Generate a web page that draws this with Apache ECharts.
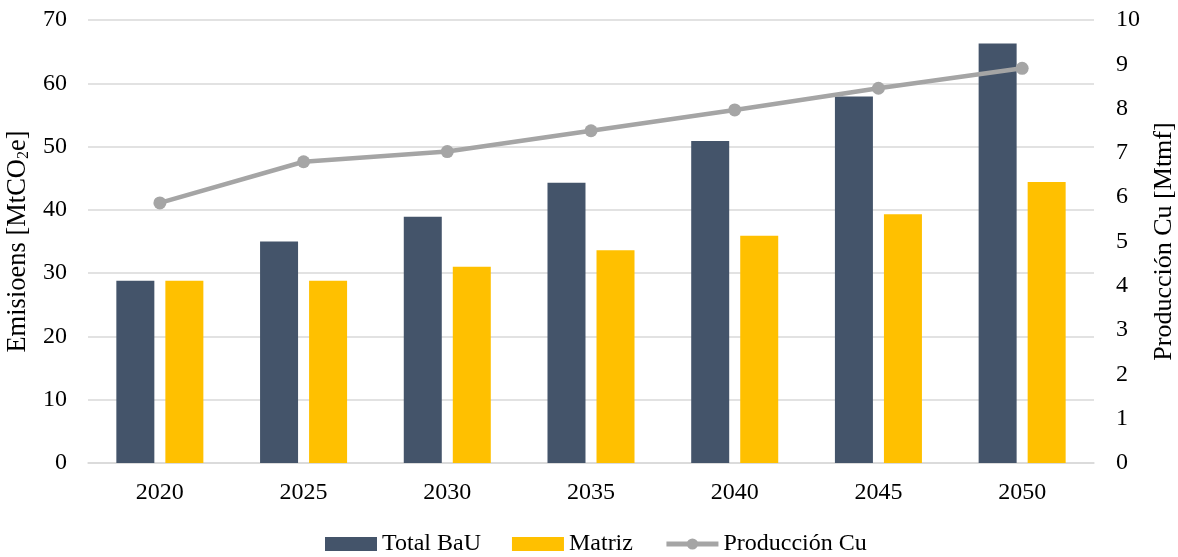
<!DOCTYPE html>
<html>
<head>
<meta charset="utf-8">
<script src="https://cdn.jsdelivr.net/npm/echarts@6/dist/echarts.min.js"></script>
<style>
html,body{margin:0;padding:0;background:#fff;}
#chart{width:1178px;height:557px;}
</style>
</head>
<body>
<div id="chart"></div>
<script>
const categories = ['2020','2025','2030','2035','2040','2045','2050'];
const totalBaU = [28.8, 35.0, 38.9, 44.3, 50.9, 57.9, 66.3];
const matriz = [28.8, 28.8, 31.0, 33.6, 35.9, 39.3, 44.4];
const produccionCu = [5.87, 6.80, 7.03, 7.50, 7.97, 8.46, 8.91];

const font = 'Liberation Serif, Times New Roman, serif';
const chart = echarts.init(document.getElementById('chart'));
chart.setOption({
  backgroundColor: '#fff',
  animation: false,
  textStyle: {fontFamily: font, color: '#000'},
  grid: {left: 88, right: 84, top: 20, bottom: 94, containLabel: false, outerBoundsMode: 'none'},
  legend: {
    top: 527,
    left: 320,
    itemWidth: 52,
    itemHeight: 14,
    itemGap: 31,
    textStyle: {fontFamily: font, fontSize: 24, color: '#000'},
    data: [
      {name: 'Total BaU', icon: 'rect'},
      {name: 'Matriz', icon: 'rect'},
      {name: 'Producción Cu', lineStyle: {width: 5}}
    ]
  },
  xAxis: {
    type: 'category',
    data: categories,
    axisTick: {show: false},
    axisLine: {lineStyle: {color: '#D9D9D9', width: 1.5}},
    axisLabel: {fontFamily: font, fontSize: 24, color: '#000', margin: 18}
  },
  yAxis: [{
    type: 'value',
    min: 0, max: 70, interval: 10,
    name: '{a|Emisioens [MtCO}{s|2}{a|e]}',
    nameLocation: 'middle',
    nameGap: 45,
    nameRotate: 90,
    nameTextStyle: {
      rich: {
        a: {fontFamily: font, fontSize: 26.5, color: '#000'},
        s: {fontFamily: font, fontSize: 16, color: '#000', padding: [12, 0, 0, 0]}
      }
    },
    axisLine: {show: false},
    axisTick: {show: false},
    axisLabel: {fontFamily: font, fontSize: 24, color: '#000', margin: 21},
    splitLine: {lineStyle: {color: '#D9D9D9', width: 1.5}}
  }, {
    type: 'value',
    min: 0, max: 10, interval: 1,
    name: 'Producción Cu [Mtmf]',
    nameLocation: 'middle',
    nameGap: 56,
    nameRotate: 90,
    nameTextStyle: {fontFamily: font, fontSize: 26, color: '#000'},
    axisLine: {show: false},
    axisTick: {show: false},
    axisLabel: {fontFamily: font, fontSize: 24, color: '#000', margin: 22},
    splitLine: {show: false}
  }],
  series: [{
    name: 'Total BaU',
    type: 'bar',
    data: totalBaU,
    barWidth: 38,
    barGap: '29%',
    itemStyle: {color: '#44546A'}
  }, {
    name: 'Matriz',
    type: 'bar',
    data: matriz,
    barWidth: 38,
    itemStyle: {color: '#FFC000'}
  }, {
    name: 'Producción Cu',
    type: 'line',
    yAxisIndex: 1,
    data: produccionCu,
    symbol: 'circle',
    symbolSize: 13,
    lineStyle: {color: '#A5A5A5', width: 4.5},
    itemStyle: {color: '#A5A5A5'}
  }]
});
</script>
</body>
</html>
